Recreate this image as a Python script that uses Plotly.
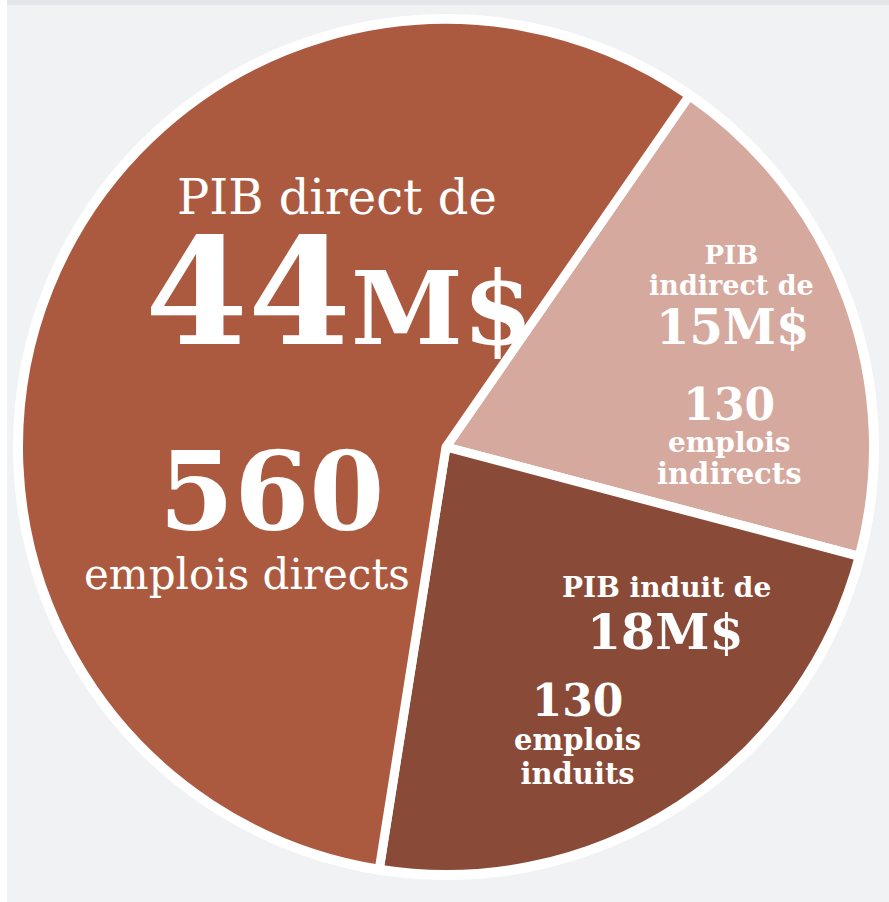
import plotly.graph_objects as go

# slices, in clockwise order starting at the top right
labels = ['PIB indirect', 'PIB induit', 'PIB direct']
values = [15, 18, 44]  # M$
colors = ['#d5a99e', '#8a4a38', '#ab5a40']

# text lines shown inside each slice
direct_lines = ['PIB direct de', '44', 'M$', '560', 'emplois directs']
indirect_lines = ['PIB', 'indirect de', '15M$', '130', 'emplois', 'indirects']
induit_lines = ['PIB induit de', '18M$', '130', 'emplois', 'induits']

W, H = 889, 902

def px(x):
    return x / W

def py(y):
    return 1 - y / H

fig = go.Figure()
fig.add_trace(go.Pie(
    labels=labels, values=values, sort=False, direction='clockwise', rotation=34.7,
    marker=dict(colors=colors, line=dict(color='white', width=9)),
    textinfo='none', hoverinfo='label+value', showlegend=False,
    domain=dict(x=[px(18.5), px(873.5)], y=[py(874.5), py(19.5)])
))

# background: white strip on the left, grey panel with a darker top band
fig.add_shape(type='rect', xref='paper', yref='paper', x0=px(7), x1=1, y0=0, y1=1,
              fillcolor='#f1f2f4', line_width=0, layer='below')
fig.add_shape(type='rect', xref='paper', yref='paper', x0=px(7), x1=1, y0=py(5), y1=1,
              fillcolor='#e4e5e8', line_width=0, layer='below')
# white outer ring
fig.add_shape(type='circle', xref='paper', yref='paper',
              x0=px(446 - 433), x1=px(446 + 433), y0=py(447 + 433), y1=py(447 - 433),
              fillcolor='white', line_width=0, layer='below')

SERIF = 'DejaVu Serif'
ASC, DESC = 0.928, 0.236  # DejaVu Serif metrics


def group(lines, sizes, cx, base0, step=None, bold=False):
    # several lines in one annotation; step = distance between baselines
    step = step or 30
    base = step / 1.3
    parts = []
    for s, sz in zip(lines, sizes):
        p = "<span style='font-size:%dpx'>%s</span>" % (sz, s)
        parts.append('<b>' + p + '</b>' if bold else p)
    last = base0 + step * (len(lines) - 1)
    mid = ((base0 - ASC * sizes[0]) + (last + DESC * sizes[-1])) / 2
    fig.add_annotation(text='<br>'.join(parts), x=px(cx), y=py(mid), xref='paper', yref='paper',
                       xanchor='center', yanchor='middle', align='center', showarrow=False,
                       font=dict(family=SERIF, size=base, color='white'))


# direct
group([direct_lines[0]], [48], 337, 214)
group([direct_lines[1] + "<span style='font-size:101px'>" + direct_lines[2] + '</span>'], [148],
      339, 343, bold=True)
group([direct_lines[3]], [108], 271, 528, bold=True)
group([direct_lines[4]], [42], 247, 589)

# indirect
group(indirect_lines[0:2], [26, 27], 731, 264, step=31, bold=True)
group([indirect_lines[2]], [48], 732, 344, bold=True)
group(indirect_lines[3:6], [44, 28, 29], 729, 420, step=32, bold=True)

# induit
group([induit_lines[0]], [28], 666, 597, bold=True)
group([induit_lines[1]], [49], 665, 649, bold=True)
group(induit_lines[2:5], [44, 29, 29], 577, 716, step=34, bold=True)

fig.update_layout(width=W, height=H, margin=dict(l=0, r=0, t=0, b=0),
                  paper_bgcolor='white', plot_bgcolor='white')
# drop the default page margin so the figure sits at the window corner
fig.write_html('out.html', config={'displayModeBar': False},
               post_script="document.body.style.margin='0';")
